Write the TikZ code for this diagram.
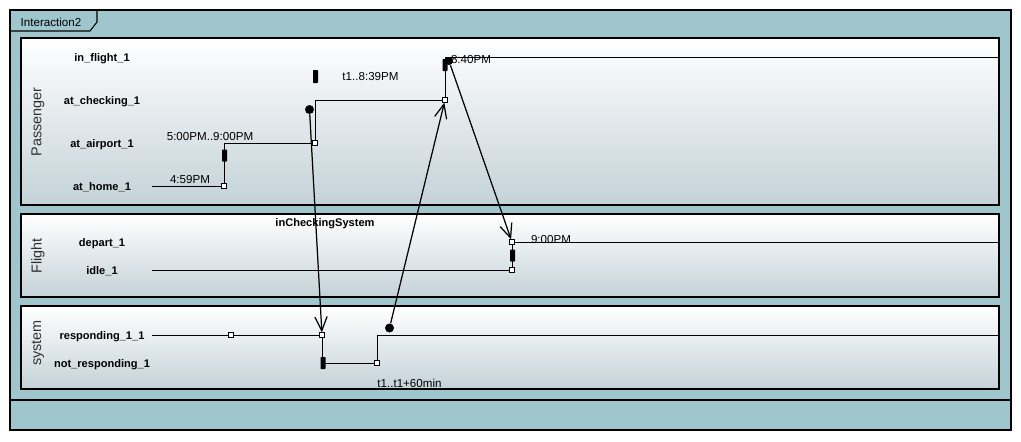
\documentclass[tikz,border=0pt]{standalone}
\usepackage{fontspec}
\setmainfont{Liberation Sans}
\usetikzlibrary{arrows.meta}
\tikzset{>={Straight Barb[length=8pt,width=7pt]}}
\definecolor{framebg}{HTML}{9EC6CC}
\definecolor{lanebot}{HTML}{C4D2D8}
\definecolor{lanetext}{HTML}{303030}
\tikzset{
  lanebox/.style={draw=black, line width=0.6pt, top color=white, bottom color=lanebot},
  lanename/.style={font=\fontsize{8.2}{9}\selectfont, text=lanetext, rotate=90},
  statelabel/.style={font=\fontsize{6.3}{7}\selectfont\bfseries, anchor=base},
  stamp/.style={font=\fontsize{6.6}{7}\selectfont, anchor=base, inner sep=0pt},
  sqmark/.style={draw, fill=white, inner sep=0pt, minimum size=0.09cm, line width=0.5pt},
  barmark/.style={fill=black, inner sep=0pt, minimum width=0.1cm, minimum height=0.24cm, rounded corners=0.4pt},
  dotmark/.style={circle, fill=black, inner sep=0pt, minimum size=0.18cm},
  tl/.style={line width=0.55pt},
  msg/.style={->, line width=0.7pt},
}

\begin{document}
\begin{tikzpicture}[x=0.02cm, y=-0.02cm]
		% Canvas
		\fill[white] (0,0) rectangle (1021,441);
		\useasboundingbox (0,0) rectangle (1021,441);

		% Frame
		\fill[framebg] (10,10) rectangle (1011,430);
		\draw[line width=0.6pt] (10,10) rectangle (1011,430);
		\draw[line width=0.6pt] (10,400) -- (1011,400);
		\draw[line width=0.6pt] (10,31) -- (90,31) -- (97,22) -- (97,10);
		\node[font=\fontsize{6.6}{7}\selectfont] (title) at (51,22) {Interaction2};

		% Lanes
		\draw[lanebox] (21,38) rectangle (999,205);
		\draw[lanebox] (21,214) rectangle (999,297);
		\draw[lanebox] (21,306) rectangle (999,389);
		\node[lanename] (paxname) at (38,122) {Passenger};
		\node[lanename] (fltname) at (38,256) {Flight};
		\node[lanename] (sysname) at (38,343) {system};

		% State names
		\node[statelabel] (inflight) at (102,61.5) {in\_flight\_1};
		\node[statelabel] (checking) at (102,104.5) {at\_checking\_1};
		\node[statelabel] (airport) at (102,147.5) {at\_airport\_1};
		\node[statelabel] (home) at (102,190.5) {at\_home\_1};
		\node[statelabel] (depart) at (102,246.5) {depart\_1};
		\node[statelabel] (idle) at (102,274.5) {idle\_1};
		\node[statelabel] (resp) at (102,339.5) {responding\_1\_1};
		\node[statelabel] (noresp) at (102,367.5) {not\_responding\_1};

		% Passenger timeline
		\coordinate (home0) at (152,186);
		\node[sqmark] (homeA) at (224,186) {};
		\node[barmark] (barA) at (224.5,155.5) {};
		\coordinate (airportA) at (224,143);
		\node[sqmark] (airportB) at (315,143) {};
		\coordinate (checkA) at (315,100);
		\node[sqmark] (checkB) at (445,100) {};
		\node[barmark] (barB) at (445,65) {};
		\coordinate (flightA) at (445,57);
		\coordinate (flightB) at (999,57);
		\node[barmark, minimum height=0.26cm] (barC) at (315.5,76.5) {};
		\node[dotmark] (dotA) at (309.5,109.5) {};
		\node[dotmark, minimum size=0.16cm] (dotB) at (449,61) {};
		\draw[tl] (home0) -- (homeA) -- (airportA) -- (airportB) -- (checkA) -- (checkB) -- (flightA) -- (flightB);

		\node[stamp] (t459) at (190,183) {4:59PM};
		\node[stamp] (t500) at (210,140) {5:00PM..9:00PM};
		\node[stamp] (t839) at (370.5,80) {t1..8:39PM};
		\node[stamp] (t840) at (471,63) {8:40PM};

		% Flight timeline
		\coordinate (idle0) at (152,270);
		\node[sqmark] (idleA) at (512,270) {};
		\node[barmark] (barD) at (512.5,255.5) {};
		\node[sqmark] (departA) at (512,242) {};
		\coordinate (departB) at (999,242);
		\draw[tl] (idle0) -- (idleA) -- (departA) -- (departB);
		\node[stamp] (t900) at (551,243) {9:00PM};

		% System timeline
		\coordinate (resp0) at (152,335);
		\node[sqmark] (respA) at (231,335) {};
		\node[sqmark] (respB) at (322,335) {};
		\coordinate (nresp0) at (322,363);
		\node[sqmark] (nrespA) at (377,363) {};
		\coordinate (respC) at (377,335);
		\coordinate (respD) at (999,335);
		\draw[tl] (resp0) -- (respA) -- (respB) -- (nresp0) -- (nrespA) -- (respC) -- (respD);
		\node[barmark] (barE) at (323,363) {};
		\node[dotmark] (dotC) at (389.5,328) {};
		\node[stamp] (t60) at (409.5,387) {t1..t1+60min};

		% Messages
		\draw[msg] (dotA) -- (respB);
		\draw[msg] (dotC) -- (checkB);
		\draw[msg] (dotB) -- (departA);
		\node[statelabel] (msgname) at (325,226.5) {inCheckingSystem};
\end{tikzpicture}
\end{document}
